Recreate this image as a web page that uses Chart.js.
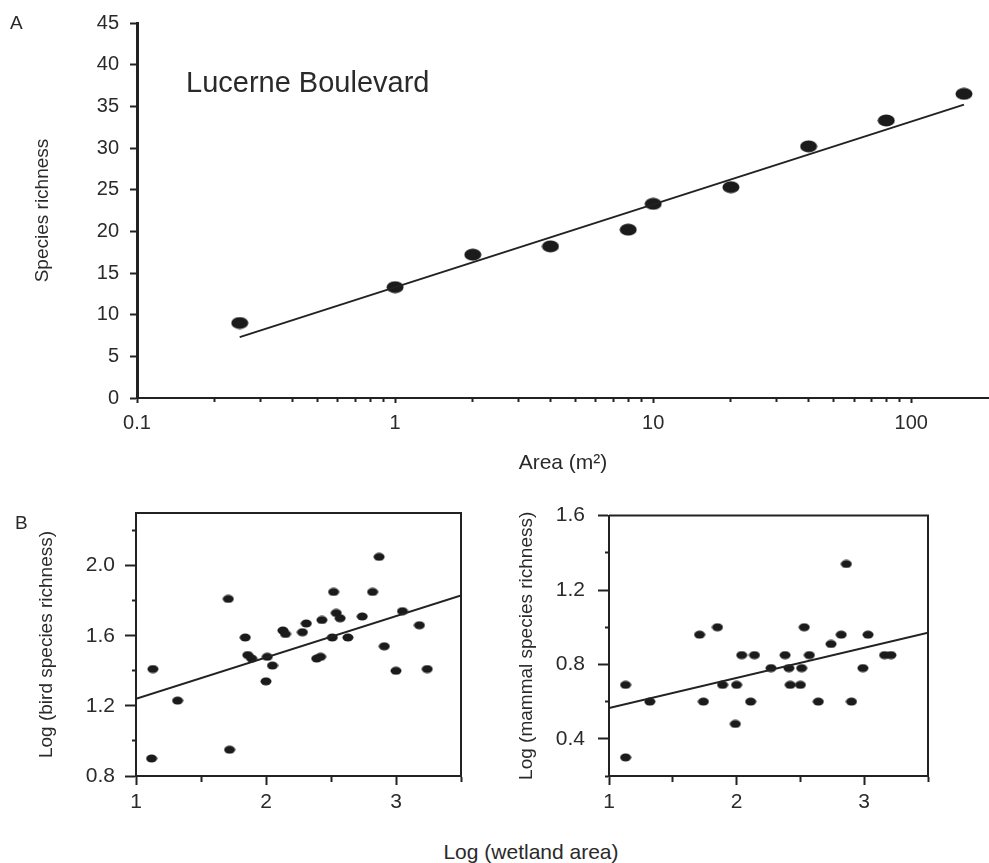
<!DOCTYPE html>
<html>
<head>
<meta charset="utf-8">
<title>Species richness vs area</title>
<script src="https://cdn.jsdelivr.net/npm/chart.js@4.4.0/dist/chart.umd.min.js"></script>
<style>
  body { margin: 0; background: #fff; }
  #page { position: relative; width: 989px; height: 863px; overflow: hidden; font-family: 'Liberation Sans', Arial, sans-serif; color: #2a2a2a; }
  .box { position: absolute; }
  .lbl { position: absolute; line-height: 1; white-space: nowrap; }
</style>
</head>
<body>
<div id="page">
  <div class="box" style="left:0;top:0;width:989px;height:482px"><canvas id="chartA"></canvas></div>
  <div class="box" style="left:0;top:490px;width:490px;height:320px"><canvas id="chartBird"></canvas></div>
  <div class="box" style="left:490px;top:490px;width:499px;height:320px"><canvas id="chartMammal"></canvas></div>
  <div class="lbl" style="left:10px;top:13px;font-size:19px">A</div>
  <div class="lbl" style="left:186px;top:68px;font-size:29px">Lucerne Boulevard</div>
  <div class="lbl" style="left:15px;top:513px;font-size:19px">B</div>
  <div class="lbl" style="left:381px;top:841px;width:300px;text-align:center;font-size:21px">Log (wetland area)</div>
</div>
<script>
// Panel A - Lucerne Boulevard
const areaA = [0.25, 1, 2, 4, 8, 10, 20, 40, 80, 160];
const richnessA = [9.0, 13.3, 17.2, 18.2, 20.2, 23.3, 25.3, 30.2, 33.3, 36.5];
const fitAreaA = [0.25, 160];
const fitRichnessA = [7.3, 35.2];
const areaLabels = [0.1, 1, 10, 100];

// Panel B - wetlands
const birdX = [1.13, 1.12, 1.32, 1.71, 1.72, 1.84, 1.86, 1.89, 2.01, 2.00, 2.05, 2.13, 2.15, 2.28, 2.31, 2.39, 2.42, 2.43, 2.51, 2.52, 2.54, 2.57, 2.63, 2.74, 2.82, 2.87, 2.91, 3.00, 3.05, 3.18, 3.24];
const birdY = [1.41, 0.90, 1.23, 1.81, 0.95, 1.59, 1.49, 1.47, 1.48, 1.34, 1.43, 1.63, 1.61, 1.62, 1.67, 1.47, 1.48, 1.69, 1.59, 1.85, 1.73, 1.70, 1.59, 1.71, 1.85, 2.05, 1.54, 1.40, 1.74, 1.66, 1.41];
const birdFitX = [1, 3.5];
const birdFitY = [1.24, 1.83];

const mammalX = [1.13, 1.13, 1.32, 1.71, 1.74, 1.85, 1.89, 1.99, 2.00, 2.04, 2.11, 2.14, 2.27, 2.38, 2.41, 2.42, 2.50, 2.51, 2.53, 2.57, 2.64, 2.74, 2.82, 2.86, 2.90, 2.99, 3.03, 3.16, 3.21];
const mammalY = [0.69, 0.30, 0.60, 0.96, 0.60, 1.00, 0.69, 0.48, 0.69, 0.85, 0.60, 0.85, 0.78, 0.85, 0.78, 0.69, 0.69, 0.78, 1.00, 0.85, 0.60, 0.91, 0.96, 1.34, 0.60, 0.78, 0.96, 0.85, 0.85];
const mammalFitX = [1, 3.5];
const mammalFitY = [0.565, 0.97];

const wetlandTicks = [1, 1.5, 2, 2.5, 3, 3.5];
const wetlandLabels = [1, 2, 3];
const birdTicks = [0.8, 1.0, 1.2, 1.4, 1.6, 1.8, 2.0, 2.2];
const birdLabels = [0.8, 1.2, 1.6, 2.0];
const mammalTicks = [0.2, 0.4, 0.6, 0.8, 1.0, 1.2, 1.4, 1.6];
const mammalLabels = [0.4, 0.8, 1.2, 1.6];

const ink = '#222';
const textInk = '#2a2a2a';
Chart.defaults.font.family = "'Liberation Sans', Arial, sans-serif";
Chart.defaults.color = textInk;

// elliptical dots like the scanned figure
function dot(w, h) {
    const c = document.createElement('canvas');
    c.width = w; c.height = h;
    const g = c.getContext('2d');
    g.fillStyle = '#1b1b1b';
    g.beginPath();
    g.ellipse(w / 2, h / 2, w / 2 - 0.5, h / 2 - 0.5, 0, 0, Math.PI * 2);
    g.fill();
    return c;
}

const pairs = (xs, ys) => xs.map((x, i) => ({ x: x, y: ys[i] }));

// log axis ticks 0.1 .. 100 (1-9 in each decade)
const areaTicks = [];
[0.1, 1, 10].forEach(d => {
    for (let k = 1; k <= 9; k++) areaTicks.push(Number((k * d).toPrecision(6)));
});
areaTicks.push(100);

// draws the top and right edges of the box for panel B
const frame = {
    id: 'frame',
    afterDraw(chart) {
        const { ctx, chartArea: a } = chart;
        ctx.save();
        ctx.strokeStyle = ink;
        ctx.lineWidth = 2;
        ctx.beginPath();
        ctx.moveTo(a.left, a.top);
        ctx.lineTo(a.right, a.top);
        ctx.lineTo(a.right, a.bottom);
        ctx.stroke();
        ctx.restore();
    }
};

const common = {
    responsive: true,
    maintainAspectRatio: false,
    animation: false,
    events: [],
    plugins: { legend: { display: false }, tooltip: { enabled: false } }
};

new Chart(document.getElementById('chartA'), {
    type: 'scatter',
    data: {
        datasets: [{
            data: pairs(fitAreaA, fitRichnessA),
            showLine: true,
            borderColor: ink,
            borderWidth: 2,
            pointRadius: 0
        }, {
            data: pairs(areaA, richnessA),
            pointStyle: dot(18, 13),
            pointRadius: 7
        }]
    },
    options: {
        ...common,
        layout: { autoPadding: false, padding: { top: 19, right: 0, left: 0, bottom: 0 } },
        scales: {
            x: {
                type: 'logarithmic',
                min: 0.1,
                max: 200,
                afterBuildTicks: s => { s.ticks = areaTicks.map(v => ({ value: v })); },
                afterFit: s => { s.height = 84; },
                border: { color: ink, width: 2 },
                grid: {
                    drawOnChartArea: false,
                    tickLength: 5,
                    tickWidth: 2,
                    tickColor: ink,
                    tickBorderDash: c => (c.tick && areaLabels.includes(c.tick.value)) ? [] : [3, 20]
                },
                ticks: {
                    autoSkip: false,
                    maxRotation: 0,
                    padding: 8,
                    font: { size: 20 },
                    callback: v => areaLabels.includes(v) ? String(v) : ''
                },
                title: { display: true, text: 'Area (m²)', font: { size: 21 }, padding: { top: 0, bottom: 6 } }
            },
            y: {
                min: 0,
                max: 45,
                afterFit: s => { s.width = 137; },
                border: { color: ink, width: 3 },
                grid: { drawOnChartArea: false, tickLength: 7, tickWidth: 2, tickColor: ink },
                ticks: { stepSize: 5, padding: 11, font: { size: 20 } },
                title: { display: true, text: 'Species richness', font: { size: 19 }, padding: { top: 31, bottom: 0 } }
            }
        }
    }
});

function wetlandChart(id, xs, ys, fitX, fitY, yMin, yMax, yTicks, yLabels, yTitle, yWidth, titlePad, labelPad, pad) {
    return new Chart(document.getElementById(id), {
        type: 'scatter',
        data: {
            datasets: [{
                data: pairs(fitX, fitY),
                showLine: true,
                borderColor: ink,
                borderWidth: 2,
                pointRadius: 0
            }, {
                data: pairs(xs, ys),
                pointStyle: dot(12, 9),
                pointRadius: 5
            }]
        },
        options: {
            ...common,
            layout: { autoPadding: false, padding: pad },
            scales: {
                x: {
                    min: 1,
                    max: 3.5,
                    afterBuildTicks: s => { s.ticks = wetlandTicks.map(v => ({ value: v })); },
                    afterFit: s => { s.height = 34; },
                    border: { color: ink, width: 2 },
                    grid: {
                        drawOnChartArea: false,
                        tickLength: 9,
                        tickWidth: 2,
                        tickColor: ink,
                        tickBorderDash: c => (c.tick && wetlandLabels.includes(c.tick.value)) ? [] : [5, 20]
                    },
                    ticks: {
                        autoSkip: false,
                        maxRotation: 0,
                        padding: 5,
                        font: { size: 21 },
                        callback: v => wetlandLabels.includes(v) ? String(v) : ''
                    }
                },
                y: {
                    min: yMin,
                    max: yMax,
                    afterBuildTicks: s => { s.ticks = yTicks.map(v => ({ value: v })); },
                    afterFit: s => { s.width = yWidth; },
                    border: { color: ink, width: 2 },
                    grid: {
                        drawOnChartArea: false,
                        tickLength: 11,
                        tickWidth: 2,
                        tickColor: ink,
                        tickBorderDash: c => (c.tick && yLabels.includes(c.tick.value)) ? [] : [0, 7, 4, 0]
                    },
                    ticks: {
                        autoSkip: false,
                        padding: labelPad,
                        font: { size: 21 },
                        callback: v => yLabels.includes(v) ? v.toFixed(1) : ''
                    },
                    title: { display: true, text: yTitle, font: { size: 19 }, padding: { top: titlePad, bottom: 0 } }
                }
            }
        },
        plugins: [frame]
    });
}

wetlandChart('chartBird', birdX, birdY, birdFitX, birdFitY, 0.8, 2.3, birdTicks, birdLabels,
    'Log (bird species richness)', 136, 35, 10, { top: 23, right: 29, left: 0, bottom: 0 });
wetlandChart('chartMammal', mammalX, mammalY, mammalFitX, mammalFitY, 0.2, 1.6, mammalTicks, mammalLabels,
    'Log (mammal species richness)', 119, 25, 13, { top: 21, right: 61, left: 0, bottom: 0 });
</script>
</body>
</html>
